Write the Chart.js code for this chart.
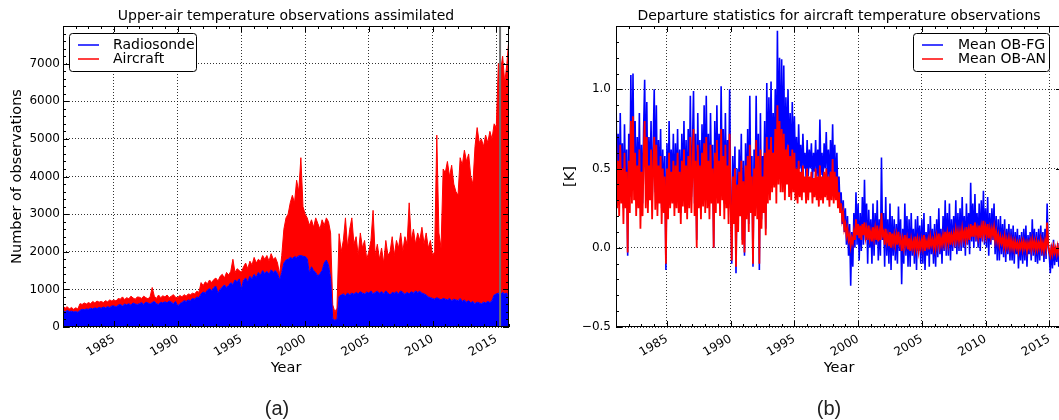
<!DOCTYPE html>
<html>
<head>
<meta charset="utf-8">
<script src="https://cdn.jsdelivr.net/npm/chart.js@4.4.1/dist/chart.umd.min.js"></script>
<style>
  html, body { margin: 0; padding: 0; overflow: hidden; background: #fff; }
  body { width: 1059px; height: 420px; position: relative; }
  canvas { position: absolute; top: 0; }
  #left { left: 0; }
  #right { left: 530px; }
  .cap { position: absolute; top: 397px; font: 20px "Liberation Sans", Arial, sans-serif; color: #222; transform: translateX(-50%); }
</style>
</head>
<body>
<canvas id="left" width="530" height="420"></canvas>
<canvas id="right" width="540" height="420"></canvas>
<div class="cap" style="left:277px">(a)</div>
<div class="cap" style="left:829px">(b)</div>
<script>
// counts: six samples per year, departures: twelve per year, both from Jan 1981
const startYear = 1981;
const countsPerYear = 6;
const departuresPerYear = 12;

const radiosonde = [
  430, 400, 440, 410, 420, 400,
  410, 390, 440, 470, 460, 480,
  470, 500, 480, 510, 490, 520,
  500, 530, 510, 540, 520, 560,
  560, 530, 580, 600, 560, 610,
  590, 620, 580, 640, 610, 600,
  620, 650, 600, 660, 640, 610,
  650, 680, 620, 600, 660, 640,
  670, 640, 690, 660, 620, 680,
  560, 620, 650, 700, 680, 720,
  700, 760, 740, 800, 780, 880,
  930, 900, 980, 1020, 960, 1050,
  1080, 900, 1000, 1060, 1120, 1050,
  1100, 1180, 1130, 1250, 1200, 1280,
  1000, 1250, 1300, 1200, 1350, 1280,
  1400, 1320, 1450, 1380, 1500, 1420,
  1480, 1400, 1520, 1450, 1500, 1420,
  1250, 1450, 1700, 1780, 1800, 1850,
  1820, 1870, 1850, 1890, 1900, 1880,
  1870, 1820, 1430, 1600, 1500, 1450,
  1350, 1420, 1500, 1700, 1780, 1650,
  1300, 220, 180, 200, 810, 850,
  880, 830, 900, 860, 900, 870,
  920, 880, 940, 900, 880, 930,
  900, 960, 880, 920, 950, 900,
  940, 880, 960, 900, 850, 920,
  900, 940, 880, 960, 920, 870,
  920, 880, 940, 900, 960, 920,
  950, 900, 880, 850, 800, 780,
  760, 740, 780, 750, 720, 760,
  740, 720, 760, 700, 740, 720,
  700, 760, 680, 720, 660, 700,
  640, 680, 620, 660, 640, 620,
  660, 640, 680, 650, 700, 850,
  880, 900, 860, 920, 880, 900,
  420
];

const aircraft = [
  130, 100, 100, 70, 100, 70,
  100, 90, 180, 130, 180, 130,
  180, 120, 200, 130, 200, 140,
  180, 120, 190, 130, 200, 130,
  160, 160, 180, 140, 240, 120,
  190, 130, 240, 130, 130, 200,
  170, 110, 220, 120, 110, 190,
  400, 140, 140, 250, 120, 190,
  130, 210, 90, 160, 240, 110,
  220, 220, 150, 160, 140, 160,
  160, 140, 140, 150, 140, 300,
  170, 300, 170, 230, 220, 210,
  220, 320, 350, 340, 180, 400,
  280, 300, 670, 200, 350, 220,
  450, 350, 400, 350, 400, 370,
  450, 380, 350, 370, 400, 380,
  420, 350, 430, 350, 350, 280,
  150, 450, 900, 1120, 1200, 1450,
  1680, 1430, 2050, 1710, 2600, 1320,
  1130, 1080, 1270, 1250, 1150, 1450,
  1400, 1180, 1350, 1000, 1120, 1150,
  1200, 370, 220, 300, 1670, 1150,
  1420, 2070, 1200, 1740, 2000, 1330,
  1480, 1020, 1560, 1200, 1420, 870,
  1100, 1340, 2220, 980, 1250, 900,
  1160, 820, 1340, 1000, 1150, 1480,
  1000, 1360, 1220, 1540, 1080, 1530,
  1280, 2420, 1360, 1700, 1240, 1580,
  1350, 1750, 1320, 1650, 1300, 1520,
  1140, 1260, 4320, 1750, 1380, 3440,
  3360, 3680, 3240, 3600, 3060, 2880,
  2800, 3740, 3620, 3980, 3740, 3900,
  3360, 3120, 4180, 4640, 4260, 4380,
  4140, 4460, 4220, 4550, 4300, 4550,
  4420, 6100, 5940, 6280, 5620, 6100,
  7280
];

const meanObFg = [
  0.95, 0.35, 0.72, 0.30, 0.85, 0.40, 0.66, 0.25, 0.78, 0.35, 0.62, -0.05,
  0.72, 0.32, 1.09, 0.38, 1.10, 0.42, 0.80, 0.30, 0.70, 0.35, 0.85, 0.25,
  0.65, 0.28, 0.75, 1.06, 0.40, 0.92, 0.32, 0.70, 0.42, 0.80, 0.28, 0.66,
  1.00, 0.35, 0.90, 0.30, 0.68, 0.38, 0.75, 0.25, 0.62, 0.32, 0.58, -0.14,
  0.66, 0.25, 0.80, 0.32, 0.62, 0.38, 0.72, 0.28, 0.66, 0.35, 0.75, 0.30,
  0.62, 0.22, 0.72, 0.35, 0.80, 0.30, 0.68, 0.25, 0.75, 0.35, 0.96, 0.32,
  0.64, 0.99, 0.28, 0.72, 0.05, 0.85, 0.35, 0.68, 0.25, 0.78, 0.38, 0.90,
  0.30, 0.96, 0.35, 0.72, 0.28, 0.85, 0.38, 0.65, 0.00, 0.80, 0.32, 0.90,
  0.38, 0.72, 0.30, 1.02, 0.42, 0.75, 0.28, 0.85, 0.35, 0.68, 0.25, 1.00,
  0.35, -0.10, 0.58, 0.25, 0.64, -0.16, 0.50, 0.15, 0.62, 0.30, 0.72, 0.05,
  0.55, -0.05, 0.66, 0.25, 0.75, 0.15, 0.96, 0.32, 0.58, -0.12, 0.62, 0.30,
  0.96, 0.25, 0.72, -0.14, 0.85, 0.18, 0.58, 0.32, 0.80, 0.12, 1.04, 0.42,
  0.95, 0.45, 1.05, 0.50, 0.85, 0.55, 1.00, 0.40, 1.37, 0.60, 1.20, 0.50,
  1.19, 0.55, 1.15, 0.45, 0.95, 0.60, 1.00, 0.50, 0.85, 0.45, 0.92, 0.55,
  0.83, 0.48, 0.70, 0.42, 0.78, 0.50, 0.65, 0.45, 0.72, 0.50, 0.60, 0.44,
  0.68, 0.45, 0.62, 0.50, 0.66, 0.42, 0.60, 0.48, 0.68, 0.45, 0.62, 0.40,
  0.81, 0.46, 0.60, 0.42, 0.66, 0.50, 0.73, 0.44, 0.62, 0.40, 0.68, 0.45,
  0.78, 0.40, 0.65, 0.38, 0.60, 0.30, 0.45, 0.25, 0.35, 0.15, 0.30, 0.10,
  0.25, 0.02, 0.20, -0.05, 0.15, -0.24, 0.10, -0.12, 0.22, 0.00, 0.35, 0.02,
  0.28, -0.08, 0.22, -0.02, 0.32, 0.02, 0.43, 0.05, 0.28, -0.10, 0.24, 0.00,
  0.18, -0.10, 0.28, -0.05, 0.22, 0.02, 0.30, -0.08, 0.18, -0.05, 0.57, 0.05,
  0.22, -0.12, 0.32, -0.05, 0.18, -0.10, 0.28, -0.14, 0.20, -0.05, 0.18, -0.08,
  0.15, -0.10, 0.26, -0.02, 0.18, -0.23, 0.12, -0.10, 0.28, -0.05, 0.20, -0.12,
  0.18, -0.12, 0.22, -0.05, 0.12, -0.10, 0.18, -0.14, 0.20, -0.02, 0.14, -0.10,
  0.18, -0.10, 0.22, -0.14, 0.10, -0.05, 0.15, -0.12, 0.20, -0.04, 0.12, -0.10,
  0.15, -0.12, 0.18, -0.06, 0.25, -0.04, 0.12, -0.10, 0.20, -0.02, 0.30, -0.05,
  0.22, -0.05, 0.28, -0.08, 0.18, -0.02, 0.20, 0.00, 0.30, -0.04, 0.22, -0.02,
  0.25, -0.02, 0.32, 0.00, 0.20, -0.05, 0.28, 0.02, 0.22, -0.04, 0.41, 0.04,
  0.28, 0.00, 0.34, 0.04, 0.22, 0.00, 0.28, -0.02, 0.30, 0.04, 0.36, 0.02,
  0.25, 0.00, 0.32, -0.05, 0.22, 0.02, 0.25, 0.05, 0.28, -0.04, 0.20, -0.08,
  0.18, -0.08, 0.20, -0.04, 0.15, -0.06, 0.18, -0.09, 0.12, -0.04, 0.15, -0.08,
  0.12, -0.08, 0.14, -0.10, 0.10, -0.04, 0.12, -0.13, 0.08, -0.08, 0.10, -0.10,
  0.12, -0.08, 0.14, -0.12, 0.08, -0.04, 0.10, -0.08, 0.18, -0.05, 0.12, -0.09,
  0.10, -0.10, 0.12, -0.08, 0.14, -0.05, 0.10, -0.09, 0.12, -0.07, 0.28, 0.00,
  -0.05, -0.16, 0.02, -0.13, 0.05, -0.11, 0.00, -0.09, 0.03, -0.12, 0.00, -0.06,
  -0.05
];

const meanObAn = [
  0.78, 0.25, 0.55, 0.20, 0.65, 0.28, 0.50, 0.15, 0.60, 0.25, 0.48, -0.03,
  0.55, 0.22, 0.80, 0.28, 0.83, 0.30, 0.60, 0.20, 0.52, 0.25, 0.62, 0.12,
  0.48, 0.20, 0.58, 0.80, 0.25, 0.70, 0.22, 0.52, 0.30, 0.62, 0.18, 0.50,
  0.70, 0.24, 0.65, 0.20, 0.52, 0.28, 0.58, 0.15, 0.50, 0.22, 0.45, -0.10,
  0.50, 0.18, 0.60, 0.25, 0.48, 0.28, 0.55, 0.20, 0.52, 0.25, 0.60, 0.22,
  0.48, 0.15, 0.55, 0.26, 0.62, 0.22, 0.52, 0.18, 0.58, 0.25, 0.70, 0.22,
  0.48, 0.75, 0.20, 0.55, 0.00, 0.65, 0.25, 0.52, 0.18, 0.60, 0.26, 0.66,
  0.22, 0.70, 0.25, 0.55, 0.18, 0.65, 0.28, 0.50, 0.00, 0.60, 0.22, 0.68,
  0.28, 0.55, 0.20, 0.75, 0.30, 0.58, 0.18, 0.65, 0.25, 0.52, 0.15, 0.72,
  0.25, -0.08, 0.45, 0.15, 0.50, -0.12, 0.40, 0.10, 0.48, 0.20, 0.55, 0.02,
  0.42, -0.03, 0.52, 0.18, 0.58, 0.10, 0.65, 0.22, 0.45, -0.10, 0.50, 0.20,
  0.68, 0.18, 0.58, -0.10, 0.62, 0.12, 0.45, 0.22, 0.60, 0.08, 0.70, 0.28,
  0.62, 0.30, 0.70, 0.35, 0.60, 0.38, 0.75, 0.28, 0.90, 0.40, 0.80, 0.35,
  0.75, 0.35, 0.72, 0.30, 0.62, 0.40, 0.65, 0.32, 0.58, 0.30, 0.62, 0.35,
  0.60, 0.30, 0.50, 0.28, 0.55, 0.32, 0.48, 0.30, 0.52, 0.35, 0.45, 0.28,
  0.50, 0.30, 0.45, 0.35, 0.48, 0.28, 0.44, 0.32, 0.50, 0.30, 0.45, 0.26,
  0.52, 0.30, 0.45, 0.28, 0.48, 0.32, 0.50, 0.30, 0.45, 0.26, 0.48, 0.30,
  0.56, 0.28, 0.48, 0.30, 0.45, 0.25, 0.35, 0.22, 0.28, 0.18, 0.22, 0.12,
  0.15, 0.08, 0.12, 0.05, 0.08, 0.01, 0.06, 0.03, 0.10, 0.05, 0.18, 0.08,
  0.15, 0.06, 0.14, 0.05, 0.15, 0.08, 0.16, 0.07, 0.12, 0.05, 0.14, 0.06,
  0.10, 0.04, 0.13, 0.06, 0.12, 0.05, 0.14, 0.04, 0.10, 0.05, 0.22, 0.08,
  0.10, 0.02, 0.12, 0.04, 0.08, 0.01, 0.10, 0.00, 0.09, 0.03, 0.08, 0.02,
  0.08, 0.02, 0.10, 0.03, 0.06, -0.02, 0.05, 0.00, 0.08, 0.02, 0.06, -0.01,
  0.06, -0.02, 0.05, 0.00, 0.04, -0.01, 0.07, 0.00, 0.05, -0.02, 0.04, 0.00,
  0.05, 0.00, 0.08, -0.02, 0.04, 0.01, 0.05, -0.01, 0.07, 0.02, 0.05, 0.00,
  0.06, 0.00, 0.07, 0.02, 0.09, 0.01, 0.06, 0.02, 0.08, 0.03, 0.10, 0.03,
  0.09, 0.03, 0.10, 0.02, 0.08, 0.04, 0.09, 0.04, 0.11, 0.05, 0.10, 0.04,
  0.10, 0.05, 0.12, 0.06, 0.10, 0.05, 0.13, 0.06, 0.11, 0.05, 0.15, 0.07,
  0.14, 0.07, 0.16, 0.08, 0.12, 0.07, 0.14, 0.06, 0.13, 0.08, 0.17, 0.08,
  0.13, 0.08, 0.15, 0.06, 0.12, 0.07, 0.12, 0.08, 0.13, 0.05, 0.10, 0.04,
  0.08, 0.02, 0.07, 0.03, 0.06, 0.01, 0.07, 0.00, 0.05, 0.01, 0.06, 0.00,
  0.05, 0.00, 0.04, -0.01, 0.04, 0.00, 0.03, -0.02, 0.03, 0.00, 0.04, -0.01,
  0.04, 0.00, 0.03, -0.02, 0.03, 0.00, 0.04, -0.01, 0.05, 0.00, 0.04, -0.01,
  0.04, -0.01, 0.03, 0.00, 0.05, -0.01, 0.03, -0.02, 0.04, 0.00, 0.16, 0.02,
  -0.02, -0.05, 0.00, -0.04, 0.01, -0.03, 0.00, -0.04, 0.01, -0.03, 0.00, -0.02,
  -0.02
];

const yearTicks = [1985, 1990, 1995, 2000, 2005, 2010, 2015];
const countTicks = [0, 1000, 2000, 3000, 4000, 5000, 6000, 7000];
const departureTicks = [-0.5, 0, 0.5, 1.0];
const departureLabels = ['\u22120.5', '0.0', '0.5', '1.0'];
const markerYear = 2015.3;

Chart.defaults.font.family = "'DejaVu Sans', sans-serif";
Chart.defaults.font.size = 12;
Chart.defaults.color = '#000';

const toPoints = (arr, step) => arr.map((v, i) => ({x: startYear + i / step, y: v}));

// frame, inward ticks, title and boxed legend like the matplotlib original
const framePlugin = {
  id: 'frame',
  afterDatasetsDraw(chart, args, opts) {
    if (opts.marker == null) return;
    const {ctx, chartArea: a, scales: {x}} = chart;
    const px = x.getPixelForValue(opts.marker);
    ctx.save();
    ctx.strokeStyle = '#707070';
    ctx.lineWidth = 2;
    ctx.beginPath();
    ctx.moveTo(px, a.top);
    ctx.lineTo(px, a.bottom);
    ctx.stroke();
    ctx.restore();
  },
  afterDraw(chart, args, opts) {
    const {ctx, chartArea: a, scales: {x, y}} = chart;
    ctx.save();
    ctx.strokeStyle = '#000';
    ctx.lineWidth = 1;
    ctx.strokeRect(a.left + 0.5, a.top + 0.5, a.width - 1, a.height - 1);

    ctx.beginPath();
    for (let v = Math.ceil(x.min); v <= x.max; v++) {
      const px = Math.round(x.getPixelForValue(v)) + 0.5;
      const len = yearTicks.includes(v) ? 6 : 3;
      ctx.moveTo(px, a.bottom); ctx.lineTo(px, a.bottom - len);
      ctx.moveTo(px, a.top); ctx.lineTo(px, a.top + len);
    }
    const major = opts.yMajor;
    for (let k = 0; y.min + k * opts.yMinor <= y.max + 1e-9; k++) {
      const v = y.min + k * opts.yMinor;
      const py = Math.round(y.getPixelForValue(v)) + 0.5;
      const len = major.some(m => Math.abs(m - v) < 1e-6) ? 6 : 3;
      ctx.moveTo(a.left, py); ctx.lineTo(a.left + len, py);
      ctx.moveTo(a.right, py); ctx.lineTo(a.right - len, py);
    }
    ctx.stroke();

    ctx.fillStyle = '#000';
    ctx.font = "14px 'DejaVu Sans', sans-serif";
    ctx.textAlign = 'center';
    ctx.textBaseline = 'middle';
    ctx.fillText(opts.title, (a.left + a.right) / 2, 16);

    const lg = opts.legend;
    ctx.fillStyle = '#fff';
    ctx.strokeStyle = '#000';
    ctx.beginPath();
    ctx.roundRect(lg.x + 0.5, lg.y + 0.5, lg.w, lg.h, 3);
    ctx.fill();
    ctx.stroke();
    ctx.font = "14px 'DejaVu Sans', sans-serif";
    ctx.textAlign = 'left';
    chart.data.datasets.forEach((ds, i) => {
      const ly = lg.y + 12 + i * 14;
      ctx.strokeStyle = ds.borderColor;
      ctx.lineWidth = 1.5;
      ctx.beginPath();
      ctx.moveTo(lg.x + 9, ly);
      ctx.lineTo(lg.x + 30, ly);
      ctx.stroke();
      ctx.fillStyle = '#000';
      ctx.fillText(ds.label, lg.x + lg.text, ly);
    });
    ctx.restore();
  }
};

const yearAxis = {
  type: 'linear',
  min: 1981,
  max: 2016,
  z: 1,
  afterBuildTicks: s => { s.ticks = yearTicks.map(v => ({value: v})); },
  afterFit: s => { s.height = 53; },
  grid: { color: 'rgba(0,0,0,0.8)', lineWidth: 1, drawTicks: false },
  border: { display: false, dash: [1, 2] },
  ticks: { autoSkip: false, minRotation: 30, maxRotation: 30, padding: 5, callback: v => String(v) },
  title: { display: true, text: 'Year', font: { size: 14.5 }, padding: { top: 0, bottom: 3 } }
};

new Chart(document.getElementById('left'), {
  type: 'line',
  data: {
    datasets: [
      { label: 'Radiosonde', data: toPoints(radiosonde, countsPerYear), borderColor: '#0000ff', backgroundColor: '#0000ff', fill: 'origin', borderWidth: 1, pointRadius: 0 },
      { label: 'Aircraft', data: toPoints(aircraft, countsPerYear), borderColor: '#ff0000', backgroundColor: '#ff0000', fill: '-1', borderWidth: 1, pointRadius: 0 }
    ]
  },
  options: {
    responsive: false,
    animation: false,
    layout: { padding: { left: 0, right: 21, top: 26, bottom: 40 } },
    plugins: {
      legend: { display: false },
      tooltip: { enabled: false },
      frame: { title: 'Upper-air temperature observations assimilated', yMajor: countTicks, yMinor: 200,
               legend: { x: 69, y: 33, w: 127, h: 38, text: 44 }, marker: markerYear }
    },
    scales: {
      x: yearAxis,
      y: {
        stacked: true,
        min: 0,
        max: 8000,
        z: 1,
        afterBuildTicks: s => { s.ticks = countTicks.map(v => ({value: v})); },
        afterFit: s => { s.width = 63; },
        grid: { color: 'rgba(0,0,0,0.8)', lineWidth: 1, drawTicks: false },
        border: { display: false, dash: [1, 2] },
        ticks: { padding: 3, callback: v => String(v) },
        title: { display: true, text: 'Number of observations', font: { size: 14.5 }, padding: { top: 9, bottom: 0 } }
      }
    }
  },
  plugins: [framePlugin]
});

new Chart(document.getElementById('right'), {
  type: 'line',
  data: {
    datasets: [
      { label: 'Mean OB-FG', data: toPoints(meanObFg, departuresPerYear), borderColor: '#0000ff', borderWidth: 1.6, pointRadius: 0, fill: false, order: 1 },
      { label: 'Mean OB-AN', data: toPoints(meanObAn, departuresPerYear), borderColor: '#ff0000', borderWidth: 1.8, pointRadius: 0, fill: false, order: 0 }
    ]
  },
  options: {
    responsive: false,
    animation: false,
    layout: { padding: { left: 0, right: 8, top: 26, bottom: 40 } },
    plugins: {
      legend: { display: false },
      tooltip: { enabled: false },
      frame: { title: 'Departure statistics for aircraft temperature observations', yMajor: departureTicks, yMinor: 0.1,
               legend: { x: 383, y: 33, w: 136, h: 38, text: 45 } }
    },
    scales: {
      x: yearAxis,
      y: {
        min: -0.5,
        max: 1.4,
        z: 1,
        afterBuildTicks: s => { s.ticks = departureTicks.map(v => ({value: v})); },
        afterFit: s => { s.width = 86; },
        grid: { color: 'rgba(0,0,0,0.8)', lineWidth: 1, drawTicks: false },
        border: { display: false, dash: [1, 2] },
        ticks: { padding: 5, callback: v => departureLabels[departureTicks.indexOf(v)] },
        title: { display: true, text: '[K]', font: { size: 14.5 }, padding: { top: 32, bottom: 0 } }
      }
    }
  },
  plugins: [framePlugin]
});
</script>
</body>
</html>
